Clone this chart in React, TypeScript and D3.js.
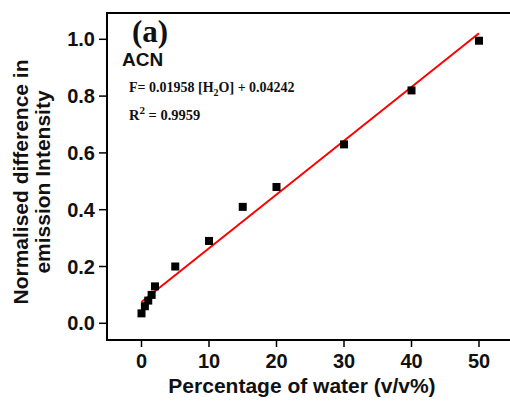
import React from "react";
import * as d3 from "d3";

const waterPct = [0, 0.5, 1, 1.5, 2, 5, 10, 15, 20, 30, 40, 50];
const intensity = [0.035, 0.06, 0.08, 0.1, 0.13, 0.2, 0.29, 0.41, 0.48, 0.63, 0.82, 0.995];
const fitX = [0, 50];
const fitY = [0.075, 1.021];
const xTicks = [0, 10, 20, 30, 40, 50];
const yTicks = [0, 0.2, 0.4, 0.6, 0.8, 1.0];

const W = 510;
const H = 406;
const left = 107;
const top = 13;
const bottom = 340;

export default function App() {
  const x = d3.scaleLinear().domain([0, 50]).range([141.5, 479]);
  const y = d3.scaleLinear().domain([0, 1]).range([323.3, 39.3]);
  const right = x(55.5);
  const line = d3
    .line<number>()
    .x((d) => x(d))
    .y((_, i) => y(fitY[i]));
  const sans = "Arial, 'Liberation Sans', sans-serif";
  const serif = "'Times New Roman', 'Liberation Serif', serif";
  const sq = 8;
  return (
    <svg
      width={W}
      height={H}
      style={{ position: "absolute", left: 0, top: 0, background: "#fff" }}
    >
      <rect x={0} y={0} width={W} height={H} fill="#fff" />
      {/* frame */}
      <rect
        x={left}
        y={top}
        width={right - left}
        height={bottom - top}
        fill="none"
        stroke="#000"
        strokeWidth={2}
      />
      {/* y ticks */}
      {yTicks.map((t) => (
        <g key={"y" + t}>
          <line x1={left - 8} x2={left} y1={y(t)} y2={y(t)} stroke="#000" strokeWidth={1.5} />
          <text
            x={left - 12}
            y={y(t) + 7}
            textAnchor="end"
            fontFamily={sans}
            fontWeight="bold"
            fontSize={20}
            fill="#111"
          >
            {t.toFixed(1)}
          </text>
        </g>
      ))}
      {/* x ticks */}
      {xTicks.map((t) => (
        <g key={"x" + t}>
          <line x1={x(t)} x2={x(t)} y1={bottom} y2={bottom + 7} stroke="#000" strokeWidth={1.5} />
          <text
            x={x(t)}
            y={368}
            textAnchor="middle"
            fontFamily={sans}
            fontWeight="bold"
            fontSize={20}
            fill="#111"
          >
            {t}
          </text>
        </g>
      ))}
      {/* axis titles */}
      <text
        x={302}
        y={393}
        textAnchor="middle"
        fontFamily={sans}
        fontWeight="bold"
        fontSize={21}
        fill="#111"
      >
        Percentage of water (v/v%)
      </text>
      <g transform="translate(28,182) rotate(-90)">
        <text textAnchor="middle" fontFamily={sans} fontWeight="bold" fontSize={21} fill="#111">
          Normalised difference in
        </text>
        <text y={22} textAnchor="middle" fontFamily={sans} fontWeight="bold" fontSize={21} fill="#111">
          emission Intensity
        </text>
      </g>
      {/* fit line */}
      <path d={line(fitX) || ""} fill="none" stroke="#ff0000" strokeWidth={2} />
      {/* points */}
      {waterPct.map((d, i) => (
        <rect
          key={"p" + i}
          x={x(d) - sq / 2}
          y={y(intensity[i]) - sq / 2}
          width={sq}
          height={sq}
          fill="#000"
        />
      ))}
      {/* annotations */}
      <text x={132} y={42} fontFamily={serif} fontWeight="bold" fontSize={31} fill="#111">
        (a)
      </text>
      <text x={122} y={66} fontFamily={sans} fontWeight="bold" fontSize={19} fill="#111">
        ACN
      </text>
      <text x={129} y={92} fontFamily={serif} fontWeight="bold" fontSize={14} fill="#111">
        F= 0.01958 [H
        <tspan fontSize={10} dy={4}>2</tspan>
        <tspan dy={-4}>O] + 0.04242</tspan>
      </text>
      <text x={129} y={120} fontFamily={serif} fontWeight="bold" fontSize={14.5} fill="#111">
        R
        <tspan fontSize={11} dy={-6}>2</tspan>
        <tspan dy={6}> = 0.9959</tspan>
      </text>
    </svg>
  );
}
